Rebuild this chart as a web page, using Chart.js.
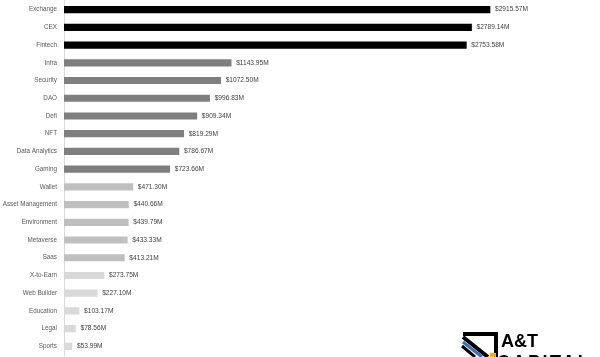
<!DOCTYPE html>
<html>
<head>
<meta charset="utf-8">
<script src="https://cdn.jsdelivr.net/npm/chart.js@4/dist/chart.umd.min.js"></script>
<style>
  html, body { margin: 0; padding: 0; background: #ffffff; }
  #wrap { position: relative; width: 600px; height: 357px; overflow: hidden; background: #fff; }
  canvas { position: absolute; left: 0; top: -10px; }
  .logo { position: absolute; font-family: "Liberation Sans", Arial, sans-serif; font-weight: bold; color: #000; font-size: 18px; line-height: 18px; white-space: nowrap; }
  #logoIcon { position: absolute; left: 460px; top: 332px; }
</style>
</head>
<body>
<div id="wrap">
  <canvas id="c" width="600" height="376"></canvas>
  <svg id="logoIcon" width="40" height="25" viewBox="0 0 40 25">
    <polyline points="3,2 36,2 36,25" fill="none" stroke="#000" stroke-width="4"/>
    <line x1="3" y1="5" x2="28" y2="25" stroke="#000" stroke-width="4"/>
    <line x1="3" y1="10" x2="22" y2="25" stroke="#3b6fb6" stroke-width="3"/>
    <line x1="2" y1="14" x2="15" y2="25" stroke="#000" stroke-width="3"/>
    <rect x="30" y="21" width="6" height="4" fill="#e8b21e"/>
  </svg>
  <div class="logo" style="left:501px; top:332px;">A&amp;T</div>
  <div class="logo" style="left:497px; top:353px; letter-spacing:2.5px;">CAPITAL</div>
</div>
<script>
const categories = ["Exchange","CEX","Fintech","Infra","Security","DAO","Defi","NFT","Data Analytics","Gaming","Wallet","Asset Management","Environment","Metaverse","Saas","X-to-Earn","Web Builder","Education","Legal","Sports"];
const fundingM = [2915.57,2789.14,2753.58,1143.95,1072.50,996.83,909.34,819.29,786.67,723.66,471.30,440.66,439.79,433.33,413.21,273.75,227.10,103.17,78.56,53.99];
const barColors = ["#000000","#000000","#000000",
  "#7f7f7f","#7f7f7f","#7f7f7f","#7f7f7f","#7f7f7f","#7f7f7f","#7f7f7f",
  "#bfbfbf","#bfbfbf","#bfbfbf","#bfbfbf","#bfbfbf",
  "#d9d9d9","#d9d9d9","#d9d9d9","#d9d9d9","#d9d9d9"];

const FONT = "'Liberation Sans', Arial, sans-serif";

const valueLabels = {
  id: 'valueLabels',
  afterDatasetsDraw(chart) {
    const ctx = chart.ctx;
    const meta = chart.getDatasetMeta(0);
    ctx.save();
    ctx.font = "6.6px " + FONT;
    ctx.fillStyle = "#404040";
    ctx.textAlign = "left";
    ctx.textBaseline = "middle";
    meta.data.forEach((bar, i) => {
      const v = chart.data.datasets[0].data[i];
      ctx.fillText("$" + v.toFixed(2) + "M", bar.x + 5, bar.y);
    });
    ctx.restore();
  }
};

new Chart(document.getElementById('c'), {
  type: 'bar',
  data: {
    labels: categories,
    datasets: [{
      data: fundingM,
      backgroundColor: barColors,
      borderWidth: 0,
      barThickness: 6.5
    }]
  },
  options: {
    indexAxis: 'y',
    responsive: false,
    animation: false,
    layout: { padding: { top: 0, bottom: 4, left: 0, right: 10 } },
    plugins: { legend: { display: false }, tooltip: { enabled: false } },
    scales: {
      x: { display: false, min: 0, max: 3600 },
      y: {
        afterFit(scale) { scale.width = 64; },
        grid: { display: true, drawOnChartArea: false, drawTicks: false },
        border: { display: true, color: '#d9d9d9', width: 1 },
        ticks: { padding: 7, color: '#595959', font: { family: FONT, size: 6.3 }, autoSkip: false }
      }
    }
  },
  plugins: [valueLabels]
});
</script>
</body>
</html>
